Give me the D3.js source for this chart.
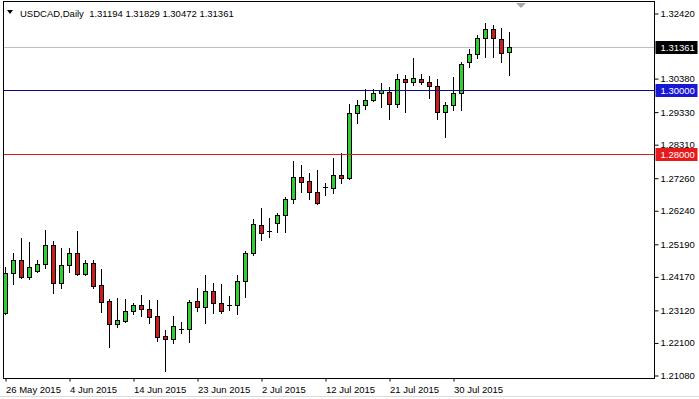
<!DOCTYPE html>
<html>
<head>
<meta charset="utf-8">
<script src="https://cdn.jsdelivr.net/npm/d3@7"></script>
<style>
  html, body { margin: 0; padding: 0; background: #fff; }
  svg text { font-family: "Liberation Sans", Arial, sans-serif; font-size: 9.5px; fill: #000; }
</style>
</head>
<body>
<div id="chart"></div>
<script>
// daily bars (broker feed includes Sunday bars)
const dates = [
    "2015-05-26","2015-05-27","2015-05-28","2015-05-29","2015-05-31",
    "2015-06-01","2015-06-02","2015-06-03","2015-06-04","2015-06-05",
    "2015-06-07","2015-06-08","2015-06-09","2015-06-10","2015-06-11","2015-06-12",
    "2015-06-14","2015-06-15","2015-06-16","2015-06-17","2015-06-18","2015-06-19",
    "2015-06-21","2015-06-22","2015-06-23","2015-06-24","2015-06-25","2015-06-26",
    "2015-06-28","2015-06-29","2015-06-30","2015-07-01","2015-07-02","2015-07-03",
    "2015-07-05","2015-07-06","2015-07-07","2015-07-08","2015-07-09","2015-07-10",
    "2015-07-12","2015-07-13","2015-07-14","2015-07-15","2015-07-16","2015-07-17",
    "2015-07-19","2015-07-20","2015-07-21","2015-07-22","2015-07-23","2015-07-24",
    "2015-07-26","2015-07-27","2015-07-28","2015-07-29","2015-07-30","2015-07-31",
    "2015-08-02","2015-08-03","2015-08-04","2015-08-05","2015-08-06","2015-08-07"
]
const open = [
    1.23032,1.24266,1.24683,1.24159,1.24338,1.24548,1.25152,1.23953,1.24517,1.24892,
    1.24244,1.24579,1.23890,1.23389,1.22687,1.22781,1.23085,1.23273,1.23138,1.22928,
    1.22302,1.22217,1.22512,1.22512,1.23389,1.23201,1.23702,1.23345,1.23282,1.23263,
    1.24015,1.24892,1.25770,1.25590,1.25832,1.26083,1.26584,1.27273,1.27148,1.26803,
    1.26947,1.26947,1.27345,1.27242,1.29278,1.29529,1.29695,1.29905,1.29955,1.29560,
    1.30343,1.30249,1.30343,1.30249,1.30124,1.29319,1.29529,1.29905,1.30876,1.31136,
    1.31628,1.31909,1.31596,1.31194
]
const high = [
    1.24454,1.24892,1.25362,1.25256,1.24683,1.25622,1.25287,1.25049,1.25068,1.25600,
    1.24692,1.24692,1.24391,1.23461,1.23502,1.23461,1.23336,1.23586,1.23430,1.23430,
    1.22490,1.22928,1.22740,1.23430,1.23805,1.24222,1.23953,1.23931,1.23555,1.24222,
    1.24955,1.25967,1.26302,1.25989,1.26164,1.26647,1.27784,1.27659,1.27399,1.27502,
    1.27104,1.27868,1.28025,1.29569,1.29695,1.30030,1.30030,1.30237,1.30093,1.30500,
    1.30468,1.31001,1.30500,1.30446,1.30343,1.29632,1.30415,1.30894,1.31292,1.31731,
    1.32097,1.32044,1.31941,1.31829
]
const low = [
    1.22991,1.23921,1.24109,1.24078,1.24316,1.24441,1.23639,1.23796,1.24316,1.24213,
    1.24213,1.23796,1.23044,1.21957,1.22593,1.22750,1.22982,1.22938,1.22700,1.22145,
    1.21215,1.22092,1.22405,1.22123,1.23094,1.22718,1.23032,1.23032,1.23116,1.22991,
    1.23533,1.24830,1.25309,1.25412,1.25569,1.25569,1.26478,1.26822,1.26603,1.26427,
    1.26719,1.26791,1.27085,1.27225,1.28984,1.29422,1.29673,1.29485,1.29109,1.29466,
    1.29328,1.30155,1.30196,1.29748,1.29090,1.28545,1.29381,1.29381,1.30738,1.31020,
    1.31051,1.31051,1.30894,1.30472
]
const close = [
    1.24266,1.24683,1.24159,1.24454,1.24548,1.25152,1.23953,1.24517,1.24892,1.24244,
    1.24579,1.23877,1.23376,1.22687,1.22794,1.23076,1.23263,1.23138,1.22906,1.22280,
    1.22217,1.22615,1.22521,1.23367,1.23201,1.23702,1.23345,1.23094,1.23288,1.24015,
    1.24892,1.25801,1.25538,1.25590,1.26083,1.26584,1.27273,1.27135,1.26803,1.26459,
    1.26954,1.27345,1.27242,1.29278,1.29529,1.29685,1.29905,1.29999,1.29560,1.30343,
    1.30249,1.30374,1.30249,1.30124,1.29319,1.29529,1.29905,1.30822,1.31136,1.31628,
    1.31909,1.31628,1.31176,1.31361
]

// axis labels
const priceTicks = [1.32420, 1.30380, 1.29330, 1.28310, 1.27260, 1.26240, 1.25190, 1.24170, 1.23120, 1.22100, 1.21080]
const dateTicks = ["2015-05-26","2015-06-04","2015-06-14","2015-06-23","2015-07-02","2015-07-12","2015-07-21","2015-07-30"]

// horizontal levels
const levelValues = [1.30000, 1.28000]
const levelColors = ["#0a0a8c", "#d41e1e"]
const levelBoxColors = ["#1717d6", "#e61a1a"]
const bidPrice = 1.31361

const symbol = "USDCAD,Daily"

const width = 699, height = 399
const frame = {left: 3.5, top: 1.5, right: 654.5, bottom: 378.5}

const parseDate = d3.timeParse("%Y-%m-%d")
const formatDate = d3.timeFormat("%-d %b %Y")
const fmt = d3.format(".5f")

let bars = dates.map((d, i) => ({i: i, date: d, o: open[i], h: high[i], l: low[i], c: close[i]}))

let svg = d3.select("#chart").append("svg")
    .attr("width", width)
    .attr("height", height)

// 8 px per bar, chart shifted so the right side stays empty
let x = d3.scaleLinear()
    .domain([0, 81])
    .range([5.5, 5.5 + 81 * 8])

let y = d3.scaleLinear()
    .domain([1.21080, 1.32420])
    .range([375, 13])

let snap = v => Math.round(v) + 0.5

// outer window edge
svg.append("line")
    .attr("x1", 0).attr("x2", width)
    .attr("y1", 396.5).attr("y2", 396.5)
    .attr("stroke", "#dcdcdc")

// bid line (behind the bars)
svg.append("line")
    .attr("x1", frame.left).attr("x2", frame.right)
    .attr("y1", snap(y(bidPrice))).attr("y2", snap(y(bidPrice)))
    .attr("stroke", "#c0c0c0")

// candles
let candles = svg.append("g").attr("class", "candles")

candles.selectAll(".wick")
    .data(bars)
    .enter()
    .append("line")
    .attr("class", "wick")
    .attr("x1", d => x(d.i)).attr("x2", d => x(d.i))
    .attr("y1", d => Math.round(y(d.h)))
    .attr("y2", d => Math.round(y(d.l)) + 1)
    .attr("stroke", "#000")

let bodies = bars.filter(d => Math.abs(y(d.o) - y(d.c)) >= 1.5)
let dojis = bars.filter(d => Math.abs(y(d.o) - y(d.c)) < 1.5)

candles.selectAll(".body")
    .data(bodies)
    .enter()
    .append("rect")
    .attr("class", "body")
    .attr("x", d => x(d.i) - 2)
    .attr("width", 4)
    .attr("y", d => snap(y(Math.max(d.o, d.c))))
    .attr("height", d => snap(y(Math.min(d.o, d.c))) - snap(y(Math.max(d.o, d.c))))
    .attr("fill", d => d.c >= d.o ? "#32cd32" : "#c81e1e")
    .attr("stroke", "#000")

candles.selectAll(".doji")
    .data(dojis)
    .enter()
    .append("line")
    .attr("class", "doji")
    .attr("x1", d => x(d.i) - 2.5).attr("x2", d => x(d.i) + 2.5)
    .attr("y1", d => snap(y(d.c))).attr("y2", d => snap(y(d.c)))
    .attr("stroke", "#000")

// level lines drawn over the bars
svg.selectAll(".level")
    .data(levelValues)
    .enter()
    .append("line")
    .attr("class", "level")
    .attr("x1", frame.left).attr("x2", frame.right)
    .attr("y1", d => snap(y(d))).attr("y2", d => snap(y(d)))
    .attr("stroke", (d, i) => levelColors[i])

// frame
svg.append("rect")
    .attr("x", frame.left).attr("y", frame.top)
    .attr("width", frame.right - frame.left)
    .attr("height", frame.bottom - frame.top)
    .attr("fill", "none")
    .attr("stroke", "#000")

// price axis
let yAxis = d3.axisRight(y)
    .tickValues(priceTicks)
    .tickFormat(fmt)
    .tickSize(4)
    .tickPadding(2)

let yAxisG = svg.append("g")
    .attr("transform", `translate(${frame.right}, 0.5)`)
    .call(yAxis)
yAxisG.select(".domain").remove()
yAxisG.selectAll("text").attr("font-size", "9.5px").attr("font-family", "Liberation Sans, Arial, sans-serif")

// date axis
let xAxis = d3.axisBottom(x)
    .tickValues(dateTicks.map(d => dates.indexOf(d)))
    .tickFormat(i => formatDate(parseDate(dates[i])))
    .tickSize(3)

let xAxisG = svg.append("g")
    .attr("transform", `translate(0, ${frame.bottom})`)
    .call(xAxis)
xAxisG.select(".domain").remove()
xAxisG.selectAll("text")
    .attr("text-anchor", "start")
    .attr("x", 0)
    .attr("dy", "0.9em")
    .attr("font-size", "9.5px")
    .attr("font-family", "Liberation Sans, Arial, sans-serif")

// price labels on the right edge
let tags = [{v: bidPrice, bg: "#000"}].concat(levelValues.map((v, i) => ({v: v, bg: levelBoxColors[i]})))

let tagG = svg.selectAll(".tag")
    .data(tags)
    .enter()
    .append("g")
    .attr("class", "tag")
    .attr("transform", d => `translate(${frame.right + 1}, ${Math.round(y(d.v))})`)

tagG.append("rect")
    .attr("x", 0).attr("y", -6)
    .attr("width", 42).attr("height", 13)
    .attr("fill", d => d.bg)

tagG.append("text")
    .attr("x", 5).attr("y", 4)
    .style("fill", "#fff")
    .text(d => fmt(d.v))

// header
svg.append("path")
    .attr("d", "M7,10 L13,10 L10,14 Z")
    .attr("fill", "#000")

let last = bars[bars.length - 1]
svg.append("text")
    .attr("x", 20).attr("y", 16.5)
    .attr("xml:space", "preserve")
    .text(`${symbol}  ${fmt(last.o)} ${fmt(last.h)} ${fmt(last.l)} ${fmt(last.c)}`)

// chart shift marker
svg.append("path")
    .attr("d", "M516,3 L526,3 L521,8 Z")
    .attr("fill", "#a8a8a8")
</script>
</body>
</html>
